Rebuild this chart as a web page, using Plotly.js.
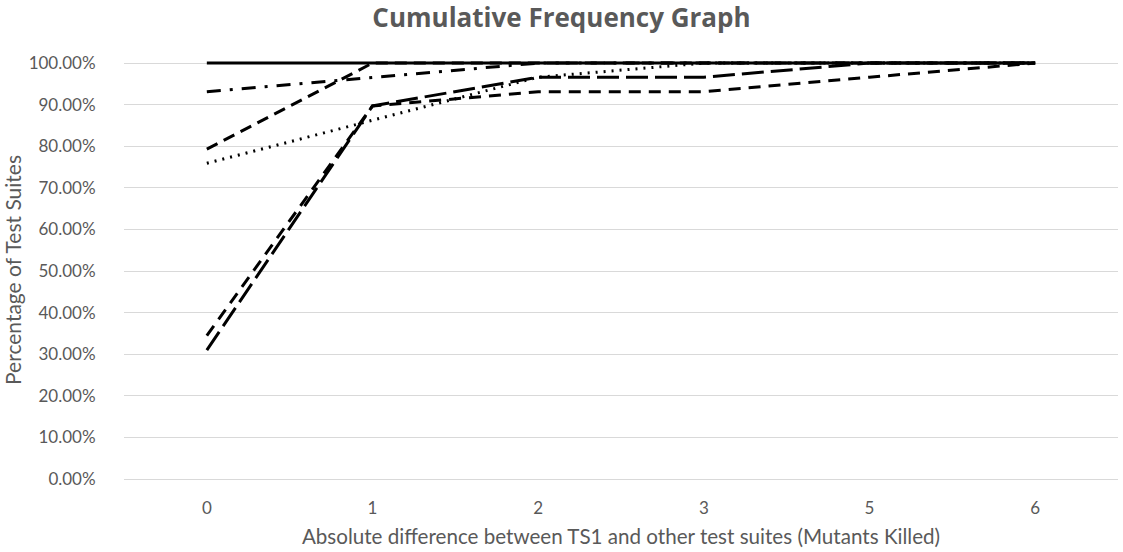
<!DOCTYPE html>
<html>
<head>
<meta charset="utf-8">
<script src="https://cdn.plot.ly/plotly-3.0.1.min.js"></script>
<style>html,body{margin:0;padding:0;background:#fff}#chart{width:1123px;height:552px}</style>
</head>
<body>
<div id="chart"></div>
<script>
const categories = ["0", "1", "2", "3", "5", "6"];
const seriesSolid    = [1.000, 1.000, 1.000, 1.000, 1.000, 1.000];
const seriesDashDot  = [0.931, 0.966, 1.000, 1.000, 1.000, 1.000];
const seriesDashUp   = [0.793, 1.000, 1.000, 1.000, 1.000, 1.000];
const seriesDotted   = [0.759, 0.862, 0.966, 1.000, 1.000, 1.000];
const seriesLongDash = [0.310, 0.897, 0.966, 0.966, 1.000, 1.000];
const seriesDash     = [0.345, 0.897, 0.931, 0.931, 0.966, 1.000];
const yTicks = [0, 0.1, 0.2, 0.3, 0.4, 0.5, 0.6, 0.7, 0.8, 0.9, 1.0];

function tr(y, dash, name) {
  return {x: categories, y: y, type: 'scatter', mode: 'lines', name: name,
          line: {color: '#000000', width: 3, dash: dash}, hoverinfo: 'skip'};
}
const data = [
  tr(seriesSolid, 'solid', 'S1'),
  tr(seriesDashDot, '14px,9px,3px,9px', 'S2'),
  tr(seriesDashUp, '12px,7px', 'S3'),
  tr(seriesDotted, '2px,6px', 'S4'),
  tr(seriesLongDash, '22px,7px', 'S5'),
  tr(seriesDash, '12px,8px', 'S6')
];
const fnt = "Lato, 'Open Sans', sans-serif";
const gray = '#595959';
const layout = {
  width: 1123, height: 552,
  margin: {l: 124, r: 5, t: 61, b: 73},
  paper_bgcolor: '#fff', plot_bgcolor: '#fff',
  showlegend: false,
  title: {text: '<b>Cumulative Frequency Graph</b>', x: 0.5, xanchor: 'center', y: 0.967, yanchor: 'middle',
          font: {family: "'Open Sans', sans-serif", size: 26, color: gray}},
  xaxis: {type: 'category', categoryorder: 'array', categoryarray: categories, range: [-0.5, 5.5],
          showgrid: false, zeroline: false, showline: true, linecolor: '#d9d9d9', linewidth: 1,
          ticks: 'outside', ticklen: 14, tickcolor: 'rgba(0,0,0,0)',
          tickfont: {family: fnt, size: 17, color: gray},
          title: {text: 'Absolute difference between TS1 and other test suites (Mutants Killed)',
                  font: {family: fnt, size: 20.6, color: gray}, standoff: 12}},
  yaxis: {range: [0, 1.005], tickvals: yTicks, tickformat: '.2%',
          showgrid: true, gridcolor: '#d9d9d9', gridwidth: 1, zeroline: false, showline: false,
          ticks: 'outside', ticklen: 24, tickcolor: 'rgba(0,0,0,0)',
          tickfont: {family: fnt, size: 17, color: gray},
          title: {text: 'Percentage of Test Suites', font: {family: fnt, size: 21, color: gray}, standoff: 10}}
};
Plotly.newPlot('chart', data, layout, {staticPlot: true, displayModeBar: false});
</script>
</body>
</html>
